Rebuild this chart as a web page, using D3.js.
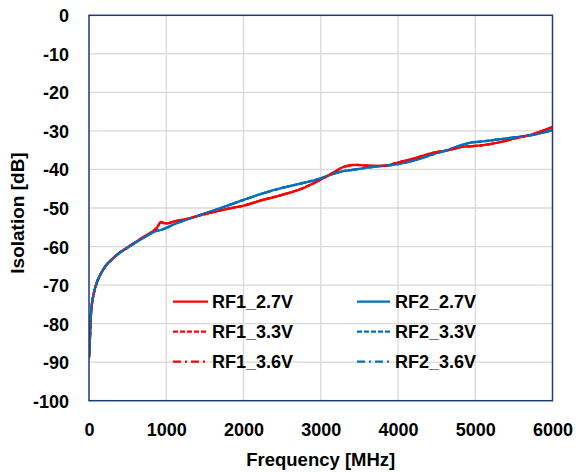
<!DOCTYPE html>
<html>
<head>
<meta charset="utf-8">
<script src="https://cdn.jsdelivr.net/npm/d3@7"></script>
<style>
  html, body { margin: 0; padding: 0; background: #fff; }
  svg { display: block; }
  text { font-family: "Liberation Sans", Arial, sans-serif; font-weight: bold; fill: #000; }
</style>
</head>
<body>
<svg id="chart" width="576" height="472"></svg>
<script>
// ---- Data ----
const freqMHz = [0, 10, 20, 35, 60, 100, 150, 210, 300, 400, 500, 600, 700, 800, 880, 930, 970, 1010, 1100, 1250,
  1500, 1750, 2000, 2250, 2500, 2750, 3000, 3150, 3300, 3450, 3600, 3800, 4000, 4200, 4450, 4650,
  4850, 4920, 5100, 5300, 5500, 5750, 6000];

const rf1_27 = [-88.6, -85.0, -79.5, -75.5, -72.4, -69.4, -67.2, -65.1, -63.2, -61.5, -60.2, -58.9, -57.6, -56.4, -55.1, -53.6, -53.9, -54.0, -53.5, -52.9,
  -51.6, -50.4, -49.4, -47.9, -46.6, -45.0, -42.6, -41.0, -39.3, -38.8, -39.0, -39.1, -38.2, -37.2, -35.7, -35.0,
  -34.1, -34.0, -33.7, -33.0, -32.0, -30.8, -28.9];
const rf1_33 = [-88.8, -85.3, -79.8, -75.6, -72.5, -69.5, -67.3, -65.1, -63.3, -61.5, -60.2, -58.9, -57.6, -56.4, -55.1, -53.7, -53.9, -54.0, -53.5, -52.9,
  -51.6, -50.4, -49.4, -47.9, -46.6, -45.0, -42.6, -41.0, -39.3, -38.8, -39.0, -39.1, -38.2, -37.2, -35.7, -35.0,
  -34.1, -34.0, -33.7, -33.0, -32.0, -30.8, -29.0];
const rf1_36 = [-88.9, -85.5, -80.0, -75.7, -72.5, -69.5, -67.3, -65.2, -63.3, -61.5, -60.2, -58.9, -57.6, -56.4, -55.1, -53.7, -53.9, -54.0, -53.5, -52.9,
  -51.6, -50.4, -49.4, -47.9, -46.6, -45.0, -42.6, -41.0, -39.3, -38.8, -39.0, -39.1, -38.2, -37.2, -35.7, -35.0,
  -34.1, -34.0, -33.7, -33.0, -32.0, -30.8, -29.0];

const rf2_27 = [-88.4, -84.5, -79.0, -75.2, -72.2, -69.3, -67.1, -65.2, -63.3, -61.6, -60.3, -59.0, -57.8, -56.6, -55.9, -55.7, -55.4, -55.1, -54.2, -53.1,
  -51.4, -49.7, -47.9, -46.2, -44.8, -43.6, -42.3, -41.2, -40.4, -40.0, -39.5, -39.1, -38.6, -37.7, -36.1, -34.9,
  -33.5, -33.1, -32.7, -32.2, -31.7, -31.0, -29.8];
const rf2_33 = [-88.6, -84.8, -79.2, -75.3, -72.3, -69.4, -67.1, -65.2, -63.3, -61.6, -60.3, -59.0, -57.8, -56.6, -55.9, -55.7, -55.4, -55.1, -54.2, -53.1,
  -51.4, -49.7, -47.9, -46.2, -44.8, -43.6, -42.3, -41.2, -40.4, -40.0, -39.5, -39.1, -38.6, -37.7, -36.1, -34.9,
  -33.5, -33.1, -32.7, -32.2, -31.7, -31.0, -29.8];
const rf2_36 = [-88.7, -85.0, -79.4, -75.4, -72.3, -69.4, -67.2, -65.2, -63.3, -61.6, -60.3, -59.0, -57.8, -56.6, -55.9, -55.7, -55.4, -55.1, -54.2, -53.1,
  -51.4, -49.7, -47.9, -46.2, -44.8, -43.6, -42.3, -41.2, -40.4, -40.0, -39.5, -39.1, -38.6, -37.7, -36.1, -34.9,
  -33.5, -33.1, -32.7, -32.2, -31.7, -31.0, -29.8];

const xTicks = [0, 1000, 2000, 3000, 4000, 5000, 6000];
const yTicks = [0, -10, -20, -30, -40, -50, -60, -70, -80, -90, -100];
const xTitle = "Frequency [MHz]";
const yTitle = "Isolation [dB]";

// series in Excel's drawing order (legend row-major)
const seriesList = [
  { name: "RF1_2.7V", values: rf1_27, color: "#FF0000", dash: null,      col: 0, row: 0 },
  { name: "RF2_2.7V", values: rf2_27, color: "#0070C0", dash: null,      col: 1, row: 0 },
  { name: "RF1_3.3V", values: rf1_33, color: "#FF0000", dash: "5,2",     col: 0, row: 1 },
  { name: "RF2_3.3V", values: rf2_33, color: "#0070C0", dash: "5,2",     col: 1, row: 1 },
  { name: "RF1_3.6V", values: rf1_36, color: "#FF0000", dash: "8,4,2,4", col: 0, row: 2 },
  { name: "RF2_3.6V", values: rf2_36, color: "#0070C0", dash: "8,4,2,4", col: 1, row: 2 }
];

// ---- Layout ----
const plot = { left: 89, right: 552.5, top: 15.3, bottom: 400.7 };
const svg = d3.select("#chart");

const x = d3.scaleLinear().domain([0, 6000]).range([plot.left, plot.right]);
const y = d3.scaleLinear().domain([-100, 0]).range([plot.bottom, plot.top]);
const plainFmt = d => String(d); // hyphen-minus, as in the reference

// gridlines
const grid = svg.append("g");
grid.selectAll("line.gx").data(xTicks.slice(1, -1)).join("line")
  .attr("x1", d => x(d)).attr("x2", d => x(d))
  .attr("y1", plot.top).attr("y2", plot.bottom)
  .attr("stroke", "#D9D9D9").attr("stroke-width", 1.3);
grid.selectAll("line.gy").data(yTicks.slice(1, -1)).join("line")
  .attr("x1", plot.left).attr("x2", plot.right)
  .attr("y1", d => y(d)).attr("y2", d => y(d))
  .attr("stroke", "#D9D9D9").attr("stroke-width", 1.3);

// axes (labels only, via d3 axes)
const xAxis = d3.axisBottom(x).tickValues(xTicks).tickSize(0).tickPadding(0).tickFormat(plainFmt);
const gx = svg.append("g").attr("transform", `translate(0,${plot.bottom})`).call(xAxis);
gx.select(".domain").remove();
gx.selectAll("text").attr("y", 35.5).attr("dy", 0).style("font-size", "18px")
  .style("font-family", "'Liberation Sans', Arial, sans-serif").style("font-weight", "bold").attr("fill", "#000");

const yAxis = d3.axisLeft(y).tickValues(yTicks).tickSize(0).tickPadding(0).tickFormat(plainFmt);
const gy = svg.append("g").attr("transform", `translate(69,0)`).call(yAxis);
gy.select(".domain").remove();
gy.selectAll("text").attr("x", 0).attr("dy", "0.36em").style("font-size", "18px")
  .style("font-family", "'Liberation Sans', Arial, sans-serif").style("font-weight", "bold").attr("fill", "#000");

// lines
svg.append("clipPath").attr("id", "clip").append("rect")
  .attr("x", plot.left).attr("y", plot.top)
  .attr("width", plot.right - plot.left).attr("height", plot.bottom - plot.top);

const line = d3.line().x((d, i) => x(freqMHz[i])).y(d => y(d)).curve(d3.curveMonotoneX);
const lines = svg.append("g").attr("clip-path", "url(#clip)");
seriesList.forEach(s => {
  lines.append("path")
    .attr("d", line(s.values))
    .attr("fill", "none")
    .attr("stroke", s.color)
    .attr("stroke-width", 2.25)
    .attr("stroke-linejoin", "round")
    .attr("stroke-dasharray", s.dash);
});

// plot border
svg.append("rect")
  .attr("x", plot.left).attr("y", plot.top)
  .attr("width", plot.right - plot.left).attr("height", plot.bottom - plot.top)
  .attr("fill", "none").attr("stroke", "#1F3A78").attr("stroke-width", 1.5);

// legend
const legCols = [{ lx1: 173, lx2: 208, tx: 212 }, { lx1: 357, lx2: 390, tx: 395 }];
const legRows = [301.7, 331.7, 361.7];
const leg = svg.append("g");
seriesList.forEach(s => {
  const c = legCols[s.col], ry = legRows[s.row];
  leg.append("line")
    .attr("x1", c.lx1).attr("x2", c.lx2).attr("y1", ry).attr("y2", ry)
    .attr("stroke", s.color).attr("stroke-width", 2.25)
    .attr("stroke-dasharray", s.dash);
  leg.append("text")
    .attr("x", c.tx).attr("y", ry).attr("dy", "0.36em")
    .style("font-size", "18px")
    .text(s.name);
});

// axis titles
svg.append("text")
  .attr("x", (plot.left + plot.right) / 2).attr("y", 466)
  .attr("text-anchor", "middle").style("font-size", "18.5px")
  .text(xTitle);
svg.append("text")
  .attr("transform", `translate(24,213) rotate(-90)`)
  .attr("text-anchor", "middle").style("font-size", "19px")
  .text(yTitle);
</script>
</body>
</html>
